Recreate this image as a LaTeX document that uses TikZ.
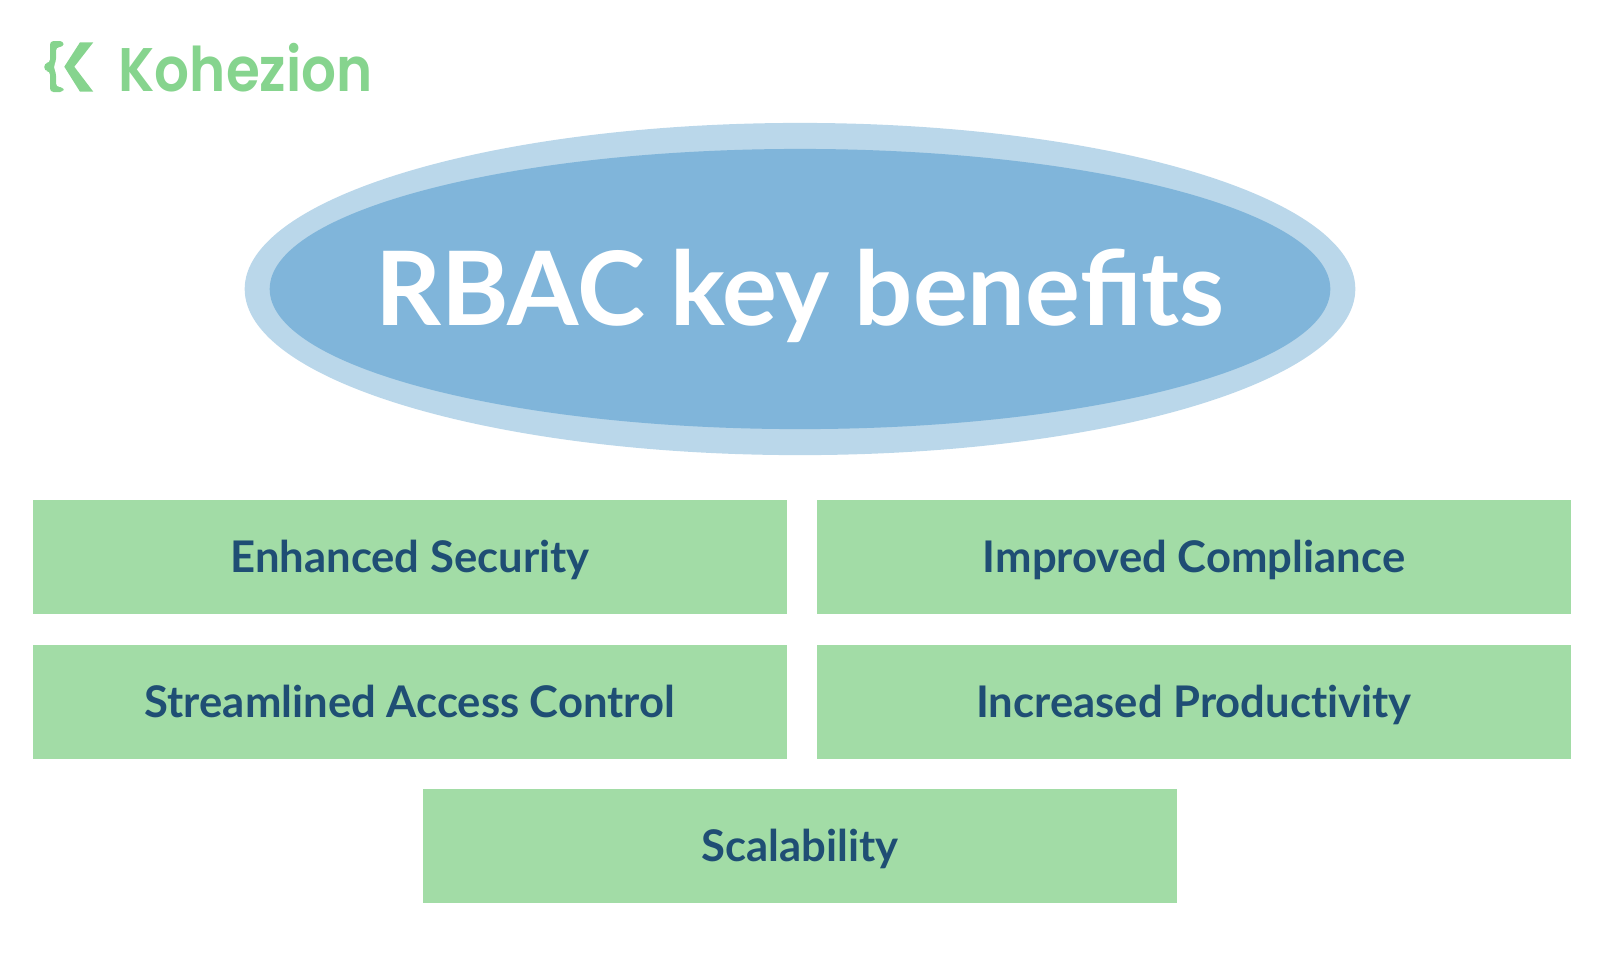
\documentclass[tikz,border=0pt]{standalone}
\usepackage{fontspec}
\setmainfont{Lato}
\newfontfamily\brandfont{Poppins SemiBold}
\usetikzlibrary{shapes.geometric}
\definecolor{boxgreen}{HTML}{A2DCA6}
\definecolor{boxtext}{HTML}{1F4E74}
\definecolor{ovalin}{HTML}{80B5DA}
\definecolor{ovalout}{HTML}{BAD7EA}
\definecolor{logogreen}{HTML}{86D48E}
\tikzset{
	benefit/.style={
			fill=boxgreen,
			text=boxtext,
			minimum width=7.54cm,
			minimum height=1.13cm,
			inner sep=0pt,
			text height=0.4cm,
			text depth=0.09cm,
			font=\fontsize{12.4pt}{15pt}\selectfont\bfseries
		}
}

\begin{document}
\begin{tikzpicture}[x=0.01cm,y=0.01cm]
    \useasboundingbox (0, 0) rectangle (1600, -959);
    \node[ellipse,fill=ovalout,minimum width=11.1cm,minimum height=3.32cm,inner sep=0pt] (outer) at (800, -289) {};
    \node[ellipse,fill=ovalin,minimum width=10.6cm,minimum height=2.8cm,inner sep=0pt] (inner) at (800, -289) {};
    \node[text=white,font=\fontsize{29.2pt}{34pt}\selectfont\bfseries] (title) at (800, -296) {RBAC key benefits};
    \node[benefit] (security) at (410, -557) {Enhanced Security};
    \node[benefit] (compliance) at (1194, -557) {Improved Compliance};
    \node[benefit] (access) at (410, -702) {Streamlined Access Control};
    \node[benefit] (productivity) at (1194, -702) {Increased Product\kern0pt ivity};
    \node[benefit] (scalability) at (800, -846) {Scalability};
    \node[text=logogreen,inner sep=0pt,xscale=0.89,font=\brandfont\fontsize{17.5pt}{21pt}\selectfont,anchor=west] (brand) at (118, -68) {Kohezion};
    % logo mark
    \fill[logogreen] (93.3, -42.3) -- (80, -42.3) -- (64.3, -66.7) -- (80, -91.7) -- (93.3, -91.7) -- (74.3, -66.7) -- cycle;
    \fill[logogreen,rounded corners=1pt] (63.5, -41) -- (50, -41) -- (50, -63) -- (44.3, -63) -- (44.3, -71) -- (50, -71) -- (50, -92) -- (63.5, -92) -- (63.5, -87) -- (56, -87) -- (56, -72) -- (53, -67) -- (56, -62) -- (56, -47) -- (63.5, -47) -- cycle;
\end{tikzpicture}
\end{document}
